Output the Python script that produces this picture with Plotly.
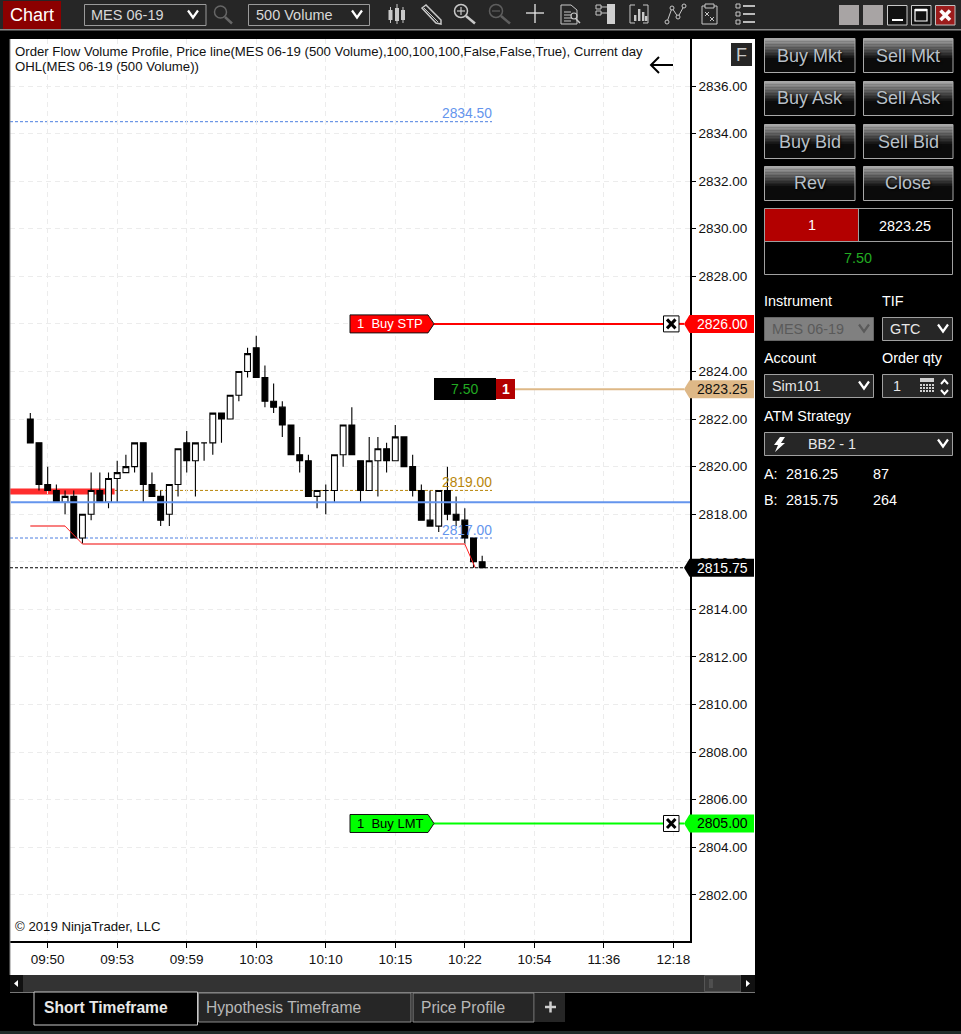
import plotly.graph_objects as go

# ---------- data ----------
candle_open = [2822.0,2821.0,2819.25,2819.0,2818.5,2818.75,2817.0,2818.0,2819.0,2818.5,2819.5,2819.75,2820.0,2821.0,2819.25,2818.75,2818.0,2819.25,2821.0,2820.25,2821.0,2821.0,2822.25,2822.0,2823.0,2824.0,2825.0,2823.75,2822.75,2822.5,2821.75,2820.5,2820.25,2818.75,2819.0,2819.0,2820.5,2821.75,2820.25,2819.0,2820.25,2820.75,2820.25,2821.25,2820.0,2819.0,2817.75,2817.5,2819.0,2818.0,2817.75,2817.0,2816.0]
candle_high = [2822.25,2821.0,2820.0,2819.25,2819.0,2819.0,2818.0,2819.75,2819.75,2819.75,2820.25,2820.5,2821.0,2821.0,2819.75,2819.0,2819.25,2820.75,2821.5,2821.0,2821.0,2822.25,2822.25,2823.0,2824.0,2825.0,2825.5,2824.25,2823.5,2822.75,2821.75,2821.25,2820.5,2819.0,2819.25,2820.5,2821.75,2822.5,2820.25,2821.25,2821.25,2821.0,2821.75,2821.25,2820.5,2819.25,2819.0,2819.0,2820.0,2818.75,2818.25,2817.0,2816.25]
candle_low = [2821.0,2819.0,2819.0,2818.5,2818.0,2817.0,2816.75,2817.75,2818.5,2818.25,2818.5,2819.75,2819.75,2818.5,2818.75,2817.5,2817.5,2818.75,2819.75,2818.75,2820.25,2820.5,2821.0,2822.0,2822.75,2823.75,2823.75,2822.5,2822.25,2821.25,2820.5,2819.75,2818.75,2818.25,2818.0,2818.5,2820.0,2820.5,2818.5,2819.0,2818.75,2819.75,2820.25,2820.0,2818.75,2817.75,2817.5,2817.25,2817.75,2817.5,2816.75,2815.75,2815.75]
candle_close = [2821.0,2819.25,2819.0,2818.5,2818.75,2817.0,2818.0,2819.0,2818.5,2819.5,2819.75,2820.0,2821.0,2819.25,2818.75,2817.75,2819.25,2820.75,2820.25,2821.0,2821.0,2822.25,2822.0,2823.0,2824.0,2824.75,2823.75,2822.75,2822.5,2821.75,2820.5,2820.25,2818.75,2819.0,2819.0,2820.5,2821.75,2820.5,2819.0,2820.25,2820.75,2820.25,2821.25,2820.0,2819.0,2817.75,2817.5,2819.0,2818.0,2817.75,2817.0,2816.0,2815.75]

x_tick_index = [2,10,18,26,34,42,50,58,66,74]
x_tick_labels = ["09:50","09:53","09:59","10:03","10:10","10:15","10:22","10:54","11:36","12:18"]
y_tick_values = [2802,2804,2806,2808,2810,2812,2814,2816,2818,2820,2822,2824,2826,2828,2830,2832,2834,2836]
y_tick_labels = ["2802.00","2804.00","2806.00","2808.00","2810.00","2812.00","2814.00","2816.00","2818.00","2820.00","2822.00","2824.00","","2828.00","2830.00","2832.00","2834.00","2836.00"]

pink_flat_1_x = [0,4];  pink_flat_1_y = [2817.5,2817.5]
pink_drop_1_x = [4,6];  pink_drop_1_y = [2817.5,2816.75]
pink_flat_2_x = [6,50]; pink_flat_2_y = [2816.75,2816.75]
pink_drop_2_x = [50,51.2]; pink_drop_2_y = [2816.75,2815.75]

level_high = 2834.50
level_open = 2819.00
level_low = 2817.00
level_blue = 2818.50
level_last = 2815.75
order_stop = 2826.00
order_limit = 2805.00
position_avg = 2823.25

# ---------- geometry ----------
L, R, T, B = 10, 690, 39, 941
W, H = 961, 1034
PPU = 23.79
Y_TOP = 2836 + (86 - T) / PPU
Y_BOT = 2836 - (B - 86) / PPU
BAR0, BARW = 30.3, 8.69
X_LO = (L - BAR0) / BARW
X_HI = (R - BAR0) / BARW
FONT = "Liberation Sans"
SHORT_DASH = "3px,2px"

def fx(x): return (x - L) / (R - L)
def fy(y): return (B - y) / (B - T)
def py(p): return 86 + (2836 - p) * PPU
def bx(i): return BAR0 + BARW * i

shapes, notes = [], []

def rect(x0, y0, x1, y1, fill=None, line=None, lw=1, layer="above"):
    shapes.append(dict(type="rect", xref="paper", yref="paper", x0=fx(x0), x1=fx(x1), y0=fy(y1), y1=fy(y0),
                       fillcolor=fill if fill else "rgba(0,0,0,0)",
                       line=dict(color=line if line else "rgba(0,0,0,0)", width=lw if line else 0), layer=layer))

def poly(pts, fill=None, line=None, lw=1, closed=False, layer="above", dash=None):
    d = "M " + " L ".join(f"{fx(a):.5f} {fy(b):.5f}" for a, b in pts) + (" Z" if closed else "")
    ln = dict(color=line if line else "rgba(0,0,0,0)", width=lw if line else 0)
    if dash: ln["dash"] = dash
    shapes.append(dict(type="path", xref="paper", yref="paper", path=d,
                       fillcolor=fill if fill else "rgba(0,0,0,0)", line=ln, layer=layer))

def circle(cx, cy, r, line=None, lw=1.5, fill=None):
    shapes.append(dict(type="circle", xref="paper", yref="paper", x0=fx(cx-r), x1=fx(cx+r), y0=fy(cy+r), y1=fy(cy-r),
                       fillcolor=fill if fill else "rgba(0,0,0,0)", line=dict(color=line, width=lw), layer="above"))

def text(x, y, s, size=14.4, color="#ffffff", anchor="center", bold=False, shadow=None):
    f = dict(family=FONT, size=size, color=color, weight="bold" if bold else "normal")
    if shadow: f["shadow"] = shadow
    notes.append(dict(xref="paper", yref="paper", x=fx(x), y=fy(y), text=s, showarrow=False,
                      xanchor=anchor, yanchor="middle", font=f, borderpad=0, borderwidth=0))

def chevron(cx, cy, color="#ffffff", w=5, h=3.5, lw=2.2):
    poly([(cx-w, cy-h), (cx, cy+h), (cx+w, cy-h)], line=color, lw=lw)

# ---------- backgrounds ----------
rect(10, 39, 755, 975, fill="#ffffff", layer="below")
rect(0, 0, 961, 29, fill="#262626", layer="below")
rect(0, 29, 961, 30.5, fill="#8a8a8a", layer="below")

# ---------- toolbar ----------
rect(3, 1, 61, 29, fill="#8b0000")
text(32, 14.5, "Chart", 18, "#ffffff")
rect(84.5, 4.5, 206, 25.5, line="#9a9a9a")
text(91, 15, "MES 06-19", 14.5, "#d8d8d8", "left")
chevron(193, 14)
circle(220.5, 12, 6, "#666666", 1.5)
poly([(225, 17), (232, 23.5)], line="#666666", lw=2.5)
rect(248.5, 4.5, 369.5, 25.5, line="#9a9a9a")
text(256, 15, "500 Volume", 14.5, "#d8d8d8", "left")
chevron(357, 14)

ic = "#c8c8c8"
for cx, y0, y1, a, b in [(390.5, 10, 20, 7, 23), (397, 8, 21, 4, 24), (403, 10, 20, 7, 23)]:
    poly([(cx, a), (cx, b)], line=ic, lw=1)
    rect(cx-2, y0, cx+2, y1, fill=ic)
poly([(422, 8), (426, 5), (441, 20), (441, 24), (436, 23)], line=ic, lw=1.5, closed=True)
poly([(424, 8), (438, 22)], line=ic, lw=1)
circle(461, 11, 6.5, ic)
poly([(466, 16), (475, 23.5)], line=ic, lw=2.5)
poly([(457, 11), (465, 11)], line=ic, lw=1.2)
poly([(461, 7), (461, 15)], line=ic, lw=1.2)
circle(496, 11, 6.5, "#5e5e5e")
poly([(501, 16), (510, 23.5)], line="#5e5e5e", lw=2.5)
poly([(492, 11), (500, 11)], line="#5e5e5e", lw=1.2)
poly([(526, 13), (544, 13)], line="#e8e8e8", lw=1.3)
poly([(535, 4), (535, 23)], line="#e8e8e8", lw=1.3)
poly([(561, 5), (571, 5), (577, 10), (577, 24), (561, 24)], line=ic, lw=1, closed=True)
for yy in (12, 15, 18, 21):
    poly([(564, yy), (571, yy)], line=ic, lw=1)
circle(574, 16, 3, ic, 1.2)
poly([(576, 19), (580, 23)], line=ic, lw=1.5)
rect(596, 5, 601, 9, line=ic)
rect(596, 11, 601, 15, line=ic)
poly([(601, 7), (607, 7)], line=ic, lw=1)
poly([(601, 13), (607, 13)], line=ic, lw=1)
rect(607, 4, 615, 24, fill="#cfcfcf")
poly([(635, 5), (630, 5), (630, 23), (635, 23)], line=ic, lw=1)
poly([(643, 5), (648, 5), (648, 23), (643, 23)], line=ic, lw=1)
for xx, yy in [(634, 15), (638, 9), (642, 12), (645, 16)]:
    rect(xx, yy, xx+2.4, 21, fill=ic)
poly([(667, 22), (672, 8), (678, 17), (684, 6)], line=ic, lw=1)
for xx, yy in [(667, 22), (672, 8), (678, 17), (684, 6)]:
    circle(xx, yy, 2, ic, 1, fill="#262626")
rect(702, 6, 717, 24, line=ic)
rect(705, 4, 714, 8, fill="#262626", line=ic)
poly([(705, 12), (709, 16)], line=ic, lw=1)
poly([(709, 12), (705, 16)], line=ic, lw=1)
poly([(710, 17), (714, 21)], line=ic, lw=1)
poly([(714, 17), (710, 21)], line=ic, lw=1)
for yy in (6, 14, 22):
    rect(736, yy-2, 740, yy+2, line=ic)
    poly([(743, yy), (755, yy)], line="#e0e0e0", lw=1.6)

rect(839, 5, 859, 25, fill="#a8a4a4")
rect(863, 5, 883, 25, fill="#a8a4a4")
rect(887.5, 5.5, 907, 25, line="#c8c8c8", fill="#111111")
poly([(892, 20), (903, 20)], line="#ffffff", lw=2)
rect(911.5, 5.5, 931, 25, line="#c8c8c8", fill="#111111")
rect(915, 9.5, 927, 21, line="#ffffff", lw=1.2)
poly([(915, 10), (927, 10)], line="#ffffff", lw=2.5)
rect(935.5, 5.5, 955, 25, line="#c0c0c0", fill="#9c1c1c")
poly([(940.5, 10.5), (950, 20)], line="#ffffff", lw=3.5)
poly([(950, 10.5), (940.5, 20)], line="#ffffff", lw=3.5)

# ---------- chart decorations ----------
poly([(10, 39), (10, 975)], line="#8a8a8a", lw=1)
rect(731, 43, 752, 66, fill="#262626")
text(741.5, 54.5, "F", 18, "#c8c8c8")
poly([(651, 65), (673, 65)], line="#000000", lw=2)
poly([(659, 57), (651, 65), (659, 73)], line="#000000", lw=2)
text(15, 51, "Order Flow Volume Profile, Price line(MES 06-19 (500 Volume),100,100,100,False,False,True), Current day", 13.2, "#111111", "left")
text(15, 67, "OHL(MES 06-19 (500 Volume))", 13.2, "#111111", "left")
text(15, 926, "© 2019 NinjaTrader, LLC", 13.2, "#111111", "left")

# reference levels drawn under the candles, from the named levels
LEVEL_END = (492 - BAR0) / BARW
def level(y, color, width, dash, x0, x1, layer="below"):
    shapes.append(dict(type="line", xref="x", yref="y", x0=x0, x1=x1, y0=y, y1=y,
                       line=dict(color=color, width=width, dash=dash), layer=layer))
level(level_open, "#b8860b", 1, SHORT_DASH, X_LO, LEVEL_END)
level(level_low, "#4d7fe0", 1, SHORT_DASH, X_LO, LEVEL_END)
level(level_high, "#4d7fe0", 1, SHORT_DASH, X_LO, LEVEL_END)
level(level_open - 0.04, "#ff2d2d", 6, "solid", X_LO, 9.7)
level(level_blue, "#6495ed", 2, "solid", X_LO + 0.1, X_HI, "above")
level(level_last, "#000000", 1, SHORT_DASH, X_LO, (684 - BAR0) / BARW, "above")

text(492, py(level_high) - 8, f"{level_high:.2f}", 13.8, "#6495ed", "right")
text(492, py(level_open) - 8, f"{level_open:.2f}", 13.8, "#b8860b", "right")
text(492, py(level_low) - 8, f"{level_low:.2f}", 13.8, "#6495ed", "right")

# order lines
def tag(price, color, tcolor):
    y = py(price)
    poly([(684, y), (689.5, y-9), (754, y-9), (754, y+9), (689.5, y+9)], fill=color, closed=True)
    text(748, y, f"{price:.2f}", 14, tcolor, "right")

def order(price, color, tcolor, label):
    y = py(price)
    poly([(434, y), (663, y)], line=color, lw=2)
    poly([(679, y), (684, y)], line=color, lw=2)
    poly([(350, y-9), (428, y-9), (434, y), (428, y+9), (350, y+9)], fill=color, line="#111111", lw=1, closed=True)
    text(357, y, label, 13, tcolor, "left")
    rect(663.5, y-8, 679, y+8, fill="#ffffff", line="#000000", lw=1)
    poly([(667, y-4.5), (675.5, y+4.5)], line="#000000", lw=3)
    poly([(675.5, y-4.5), (667, y+4.5)], line="#000000", lw=3)
    tag(price, color, tcolor)

order(order_stop, "#ff0000", "#ffffff", "1  Buy STP")
order(order_limit, "#00ff00", "#000000", "1  Buy LMT")

yp = py(position_avg)
poly([(515, yp), (684, yp)], line="#deb887", lw=2)
rect(434, 378, 496, 400, fill="#000000")
rect(496, 379, 515, 399, fill="#b30000")
text(465, 389, "7.50", 14, "#22aa22")
text(505.5, 389, "1", 14, "#ffffff", bold=True)
tag(position_avg, "#deb887", "#111111")
tag(level_last, "#000000", "#ffffff")

# ---------- scrollbar and tabs ----------
rect(10, 975, 755, 992, fill="#333333")
rect(10, 975, 23, 992, fill="#111111")
poly([(18, 980), (14, 983.5), (18, 987)], fill="#ffffff", closed=True)
rect(704.5, 975.5, 741, 991.5, fill="#3a3a3a", line="#555555")
poly([(710, 979), (710, 988)], line="#666666")
poly([(712, 979), (712, 988)], line="#666666")
rect(741, 975, 755, 992, fill="#111111")
poly([(746, 980), (750, 983.5), (746, 987)], fill="#ffffff", closed=True)
poly([(10, 992.5), (755, 992.5)], line="#777777")

rect(34, 992, 197.5, 1025, fill="#000000", line="#c8c8c8")
text(44, 1007, "Short Timeframe", 15.6, "#e8e8e8", "left", bold=True)
rect(198.5, 993, 411, 1022, fill="#262626", line="#8a8a8a")
text(206, 1007, "Hypothesis Timeframe", 15.6, "#b8b8b8", "left")
rect(413, 993, 534, 1022, fill="#262626", line="#8a8a8a")
text(421, 1007, "Price Profile", 15.6, "#b8b8b8", "left")
rect(535, 993, 565, 1022, fill="#262626")
poly([(545, 1007), (556, 1007)], line="#cfcfcf", lw=2.5)
poly([(550.5, 1001.5), (550.5, 1012.5)], line="#cfcfcf", lw=2.5)
rect(0, 1031, 961, 1034, fill="#1f2a28")

# ---------- right panel ----------
def button(x0, y0, x1, y1, s):
    rect(x0, y0, x1, y1, fill="#0b0b0b")
    n = 14
    h = (y1 - y0) * 0.62 / n
    for k in range(n):
        g = int(165 - (165 - 12) * k / (n - 1))
        rect(x0, y0 + k*h, x1, y0 + (k+1)*h + 0.3, fill=f"rgb({g},{g},{g})")
    rect(x0, y0, x1, y1, line="#a8a8a8")
    text((x0+x1)/2, (y0+y1)/2, s, 18, "#b8c0c8", shadow="1px 1px 2px #000")

for (y0, y1), (a, b) in zip([(38.5, 72.5), (81.5, 115.5), (124.5, 158.5), (166.5, 200.5)],
                            [("Buy Mkt", "Sell Mkt"), ("Buy Ask", "Sell Ask"), ("Buy Bid", "Sell Bid"), ("Rev", "Close")]):
    button(764.5, y0, 855, y1, a)
    button(863.5, y0, 953, y1, b)

rect(764.5, 208.5, 952.5, 274.5, fill="#000000", line="#a0a0a0")
rect(765, 209, 858, 241, fill="#b30000")
poly([(764.5, 241.5), (952.5, 241.5)], line="#a0a0a0")
poly([(858.5, 209), (858.5, 241)], line="#a0a0a0")
text(811.5, 225, "1")
text(905, 226, "2823.25")
text(858, 258, "7.50", 14.4, "#22aa22")

text(764, 301, "Instrument", anchor="left")
text(882, 301, "TIF", anchor="left")
rect(764.5, 317.5, 873.5, 340.5, fill="#808080", line="#666666")
text(772, 329, "MES 06-19", 14.4, "#5a5a5a", "left")
chevron(864, 328, "#5a5a5a")
rect(882.5, 317.5, 952.5, 340.5, fill="#262626", line="#a0a0a0")
text(890, 329, "GTC", 14.4, "#e8e8e8", "left")
chevron(943, 328)

text(764, 358, "Account", anchor="left")
text(882, 358, "Order qty", anchor="left")
rect(764.5, 374.5, 873.5, 397.5, fill="#262626", line="#a0a0a0")
text(772, 386, "Sim101", 14.4, "#e8e8e8", "left")
chevron(864, 385)
rect(882.5, 374.5, 952.5, 397.5, fill="#262626", line="#a0a0a0")
text(897, 385.5, "1", 14.4, "#e8e8e8", "center")
rect(920, 378, 934, 382, fill="#d0d0d0")
for yy in (384, 387, 390):
    for xx in (920, 923, 926, 929, 932):
        rect(xx, yy, xx+2, yy+2, fill="#d0d0d0")
poly([(941, 384), (944.5, 380), (948, 384)], line="#ffffff", lw=2)
poly([(941, 390), (944.5, 394), (948, 390)], line="#ffffff", lw=2)

text(764, 416, "ATM Strategy", anchor="left")
rect(764.5, 432.5, 952.5, 455.5, fill="#262626", line="#a0a0a0")
poly([(780, 437), (785, 437), (781, 443), (785, 443), (775, 452), (778, 445), (774, 445)], fill="#ffffff", closed=True)
text(808, 444, "BB2 - 1", 14.4, "#e8e8e8", "left")
chevron(943, 443)

text(764, 474, "A:", anchor="left")
text(786, 474, "2816.25", anchor="left")
text(873, 474, "87", anchor="left")
text(764, 500, "B:", anchor="left")
text(786, 500, "2815.75", anchor="left")
text(873, 500, "264", anchor="left")

# ---------- figure ----------
bar_index = list(range(len(candle_open)))
fig = go.Figure()
fig.add_trace(go.Candlestick(
    x=bar_index, open=candle_open, high=candle_high, low=candle_low, close=candle_close,
    increasing=dict(line=dict(color="#000000", width=1.1), fillcolor="#ffffff"),
    decreasing=dict(line=dict(color="#000000", width=1.1), fillcolor="#000000"),
    whiskerwidth=0, showlegend=False, hoverinfo="skip"))
for xs, ys, c, w in [(pink_flat_1_x, pink_flat_1_y, "#f88080", 2), (pink_drop_1_x, pink_drop_1_y, "#ff2020", 1),
                     (pink_flat_2_x, pink_flat_2_y, "#f88080", 2), (pink_drop_2_x, pink_drop_2_y, "#ff2020", 1)]:
    fig.add_trace(go.Scatter(x=xs, y=ys, mode="lines", line=dict(color=c, width=w), showlegend=False, hoverinfo="skip"))

GRID_DASH = "5px,4px"
fig.update_layout(
    width=W, height=H, autosize=False,
    margin=dict(l=L, r=W-R, t=T, b=H-B, pad=0),
    paper_bgcolor="#000000", plot_bgcolor="#ffffff",
    font=dict(family=FONT, color="#111111", size=14),
    showlegend=False, boxmode="overlay", boxgap=0.33, boxgroupgap=0,
    shapes=shapes, annotations=notes,
    xaxis=dict(range=[X_LO, X_HI], tickmode="array", tickvals=x_tick_index, ticktext=x_tick_labels,
               rangeslider=dict(visible=False), showgrid=True, gridcolor="#ececec", griddash=GRID_DASH, gridwidth=1,
               zeroline=False, showline=True, linecolor="#000000", linewidth=1.5,
               ticks="outside", ticklen=5, tickwidth=1, tickcolor="#000000", tickfont=dict(size=13.5, color="#111111")),
    yaxis=dict(range=[Y_BOT, Y_TOP], side="right", tickmode="array", tickvals=y_tick_values, ticktext=y_tick_labels,
               showgrid=True, gridcolor="#ececec", griddash=GRID_DASH, gridwidth=1,
               zeroline=False, showline=True, linecolor="#000000", linewidth=1.5,
               ticks="outside", ticklen=4, tickwidth=1, tickcolor="#000000", tickfont=dict(size=13.5, color="#111111")),
)

fig.write_html("out.html", config=dict(displayModeBar=False),
               post_script="document.body.style.margin='0';document.body.style.overflow='hidden';document.documentElement.style.background='#000';")
